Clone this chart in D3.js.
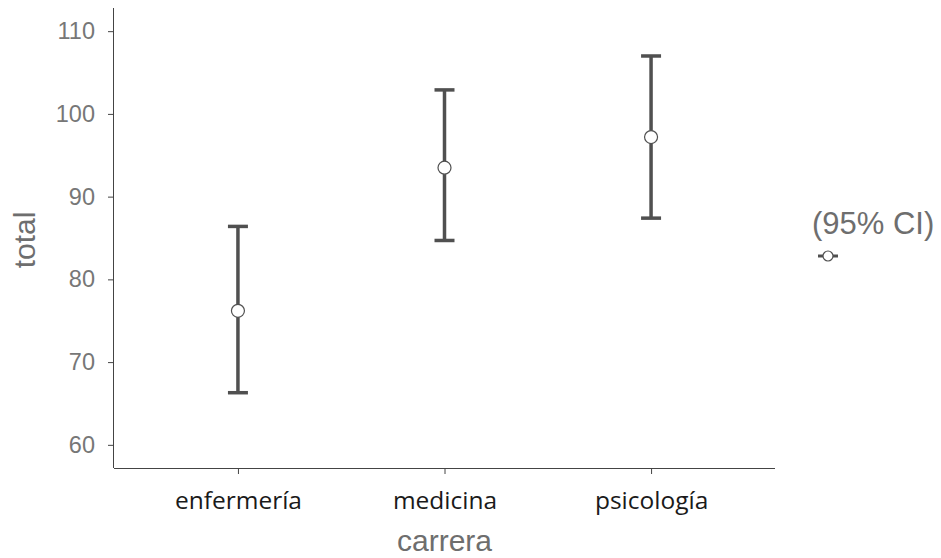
<!DOCTYPE html>
<html>
<head>
<meta charset="utf-8">
<script src="https://cdn.jsdelivr.net/npm/d3@7"></script>
<style>
  body { margin: 0; background: #fff; }
</style>
</head>
<body>
<div id="my_dataviz"></div>
<script>
// data
var carreras = ["enfermería", "medicina", "psicología"];
var medias = [76.2, 93.5, 97.2];
var ciLower = [66.3, 84.7, 87.4];
var ciUpper = [86.4, 102.9, 107.0];
var yTicks = [60, 70, 80, 90, 100, 110];
var legendLabel = "(95% CI)";

var width = 941, height = 558;
var plot = {left: 114, right: 775, top: 8, bottom: 468};
var ink = "#505050";

/**
 * Build the x (point) and y (linear) scales.
 */
function initializeScale(){
    var x = d3.scalePoint()
              .domain(carreras)
              .range([plot.left, plot.right])
              .padding(0.6);

    var y = d3.scaleLinear()
              .domain([57.2, 112.8])
              .range([plot.bottom, plot.top]);

    return {xScale: x, yScale: y};
}

/**
 * Draw both axes plus their titles.
 */
function addXYAxis(svg, xScale, yScale){
    var gx = svg.append("g")
        .attr("transform", "translate(0," + plot.bottom + ")")
        .call(d3.axisBottom(xScale).tickSize(6).tickSizeOuter(0).tickPadding(10));
    gx.select(".domain").attr("stroke", "#444").attr("d", "M" + plot.left + ",0.5H" + plot.right);
    gx.selectAll(".tick line").attr("stroke", "#444");
    gx.selectAll(".tick text")
        .attr("fill", "#1a1a1a")
        .style("font-family", "'Open Sans', sans-serif")
        .style("font-size", "24.5px")
        .attr("dy", "1em");

    var gy = svg.append("g")
        .attr("transform", "translate(" + plot.left + ",0)")
        .call(d3.axisLeft(yScale).tickValues(yTicks).tickSize(6).tickSizeOuter(0).tickPadding(13));
    gy.select(".domain").attr("stroke", "#444").attr("d", "M-0.5," + plot.top + "V" + plot.bottom);
    gy.selectAll(".tick line").attr("stroke", "#444");
    gy.selectAll(".tick text")
        .attr("fill", "#777777")
        .style("font-family", "'Liberation Sans', Arial, sans-serif")
        .style("font-size", "23.5px");

    // axis titles
    svg.append("text")
        .attr("x", (plot.left + plot.right) / 2)
        .attr("y", 551)
        .attr("text-anchor", "middle")
        .attr("fill", "#6e6e6e")
        .style("font-family", "'Liberation Sans', Arial, sans-serif")
        .style("font-size", "30px")
        .text("carrera");

    svg.append("text")
        .attr("transform", "translate(35," + 240 + ") rotate(-90)")
        .attr("text-anchor", "middle")
        .attr("fill", "#6e6e6e")
        .style("font-family", "'Liberation Sans', Arial, sans-serif")
        .style("font-size", "30px")
        .text("total");
}

/**
 * Error bars with caps and the open mean points.
 */
function displayErrorBars(svg, xScale, yScale){
    var rows = carreras.map(function(c, i){
        return {name: c, mean: medias[i], lo: ciLower[i], hi: ciUpper[i]};
    });
    var capHalf = 10;

    var g = svg.append("g").attr("stroke", ink).attr("stroke-width", 3.5);

    g.selectAll(".bar")
        .data(rows).enter()
        .append("line")
        .attr("x1", d => xScale(d.name)).attr("x2", d => xScale(d.name))
        .attr("y1", d => yScale(d.lo)).attr("y2", d => yScale(d.hi));

    g.selectAll(".capTop")
        .data(rows).enter()
        .append("line")
        .attr("x1", d => xScale(d.name) - capHalf).attr("x2", d => xScale(d.name) + capHalf)
        .attr("y1", d => yScale(d.hi)).attr("y2", d => yScale(d.hi));

    g.selectAll(".capBottom")
        .data(rows).enter()
        .append("line")
        .attr("x1", d => xScale(d.name) - capHalf).attr("x2", d => xScale(d.name) + capHalf)
        .attr("y1", d => yScale(d.lo)).attr("y2", d => yScale(d.lo));

    svg.selectAll(".mean")
        .data(rows).enter()
        .append("circle")
        .attr("cx", d => xScale(d.name))
        .attr("cy", d => yScale(d.mean))
        .attr("r", 6.5)
        .attr("fill", "#fff")
        .attr("stroke", ink)
        .attr("stroke-width", 1.2);
}

/**
 * Small legend on the right side.
 */
function addLegend(svg){
    svg.append("text")
        .attr("x", 812)
        .attr("y", 234)
        .attr("fill", "#6e6e6e")
        .style("font-family", "'Liberation Sans', Arial, sans-serif")
        .style("font-size", "31px")
        .text(legendLabel);

    var lg = svg.append("g").attr("transform", "translate(828,256)");
    lg.append("line")
        .attr("x1", -10).attr("x2", 10)
        .attr("stroke", ink).attr("stroke-width", 3);
    lg.append("circle")
        .attr("r", 5)
        .attr("fill", "#fff")
        .attr("stroke", ink)
        .attr("stroke-width", 1.2);
}

var svg = d3.select("#my_dataviz")
    .append("svg")
    .attr("width", width)
    .attr("height", height);

var scales = initializeScale();
addXYAxis(svg, scales.xScale, scales.yScale);
displayErrorBars(svg, scales.xScale, scales.yScale);
addLegend(svg);
</script>
</body>
</html>
